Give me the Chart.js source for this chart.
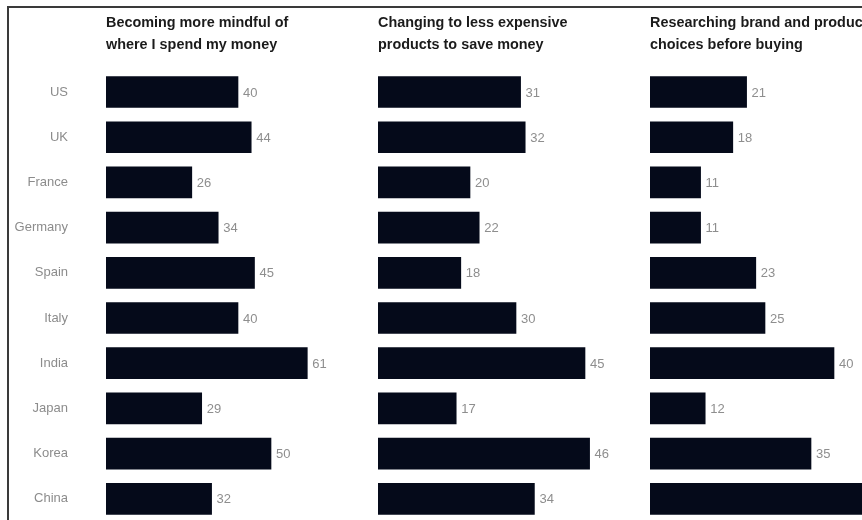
<!DOCTYPE html>
<html>
<head>
<meta charset="utf-8">
<script src="https://cdn.jsdelivr.net/npm/chart.js@4"></script>
<style>
  html, body { margin: 0; padding: 0; background: #fff; }
  body { width: 862px; height: 520px; overflow: hidden; position: relative; }
  #frame { position: absolute; left: 7px; top: 6px; width: 1000px; height: 1000px;
           border-top: 2px solid #3a3a3a; border-left: 2px solid #3a3a3a; }
  canvas { position: absolute; top: 0; }
</style>
</head>
<body>
<div id="frame"></div>
<canvas id="c1" width="370" height="572" style="left:0px"></canvas>
<canvas id="c2" width="284" height="572" style="left:370px"></canvas>
<canvas id="c3" width="284" height="572" style="left:642px"></canvas>
<script>
const countries = ["US", "UK", "France", "Germany", "Spain", "Italy", "India", "Japan", "Korea", "China"];

const mindfulTitle = ["Becoming more mindful of", "where I spend my money"];
const mindful = [40, 44, 26, 34, 45, 40, 61, 29, 50, 32];

const cheaperTitle = ["Changing to less expensive", "products to save money"];
const cheaper = [31, 32, 20, 22, 18, 30, 45, 17, 46, 34];

const researchTitle = ["Researching brand and product", "choices before buying"];
const research = [21, 18, 11, 11, 23, 25, 40, 12, 35, 47];

const barColor = "#050a1a";

// draws the number just right of each bar
const valueLabels = {
  id: "valueLabels",
  afterDatasetsDraw(chart) {
    const ctx = chart.ctx;
    const meta = chart.getDatasetMeta(0);
    ctx.save();
    ctx.font = "13px 'Liberation Sans', Arial, sans-serif";
    ctx.fillStyle = "#8e8e8e";
    ctx.textAlign = "left";
    ctx.textBaseline = "middle";
    meta.data.forEach((bar, i) => {
      ctx.fillText(chart.data.datasets[0].data[i], bar.x + 5, bar.y + 1);
    });
    ctx.restore();
  }
};

function makePanel(id, title, values, max, padLeft, showCountries) {
  const yAxis = {
    display: showCountries,
    grid: { display: false, drawTicks: false },
    border: { display: false },
    ticks: {
      padding: 38,
      color: "#8c8c8c",
      font: { family: "'Liberation Sans', Arial, sans-serif", size: 13 }
    }
  };
  if (showCountries) yAxis.afterFit = axis => { axis.width = 106; };

  return new Chart(document.getElementById(id), {
    type: "bar",
    data: {
      labels: countries,
      datasets: [{
        data: values,
        backgroundColor: barColor,
        barThickness: 31
      }]
    },
    options: {
      indexAxis: "y",
      responsive: false,
      animation: false,
      layout: { padding: { left: padLeft, right: 0, top: 0, bottom: 50.6 } },
      scales: {
        x: { display: false, min: 0, max: max },
        y: yAxis
      },
      plugins: {
        legend: { display: false },
        tooltip: { enabled: false },
        title: {
          display: true,
          text: title,
          align: "start",
          fullSize: false,
          color: "#1b1b1b",
          padding: { top: 12, bottom: 13.4 },
          font: { family: "'Liberation Sans', Arial, sans-serif", size: 14.4, weight: "600", lineHeight: 1.528 }
        }
      }
    },
    plugins: [valueLabels]
  });
}

makePanel("c1", mindfulTitle, mindful, 80, 0, true);
makePanel("c2", cheaperTitle, cheaper, 60, 8, false);
makePanel("c3", researchTitle, research, 60, 8, false);
</script>
</body>
</html>
